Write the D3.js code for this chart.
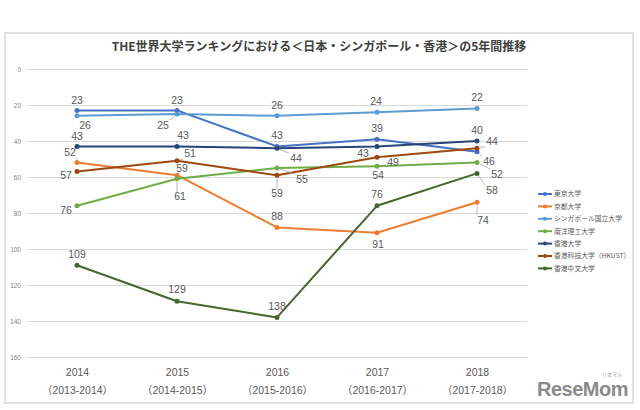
<!DOCTYPE html>
<html><head><meta charset="utf-8">
<script src="https://cdn.jsdelivr.net/npm/d3@7"></script>
<style>html,body{margin:0;padding:0;background:#fff;}svg{display:block;}</style>
</head><body>
<svg id="chart" width="640" height="410"></svg>
<script>
// ---- data ----
const years = ["2014","2015","2016","2017","2018"];
const yearRanges = ["（2013-2014）","（2014-2015）","（2015-2016）","（2016-2017）","（2017-2018）"];
const seriesNames = ["東京大学","京都大学","シンガポール国立大学","南洋理工大学","香港大学","香港科技大学（HKUST）","香港中文大学"];
const tokyo   = [23, 23, 43, 39, 46];
const kyoto   = [52, 59, 88, 91, 74];
const nus     = [26, 25, 26, 24, 22];
const ntu     = [76, 61, 55, 54, 52];
const hku     = [43, 43, 44, 43, 40];
const hkust   = [57, 51, 59, 49, 44];
const cuhk    = [109, 129, 138, 76, 58];
const yTicks  = [0, 20, 40, 60, 80, 100, 120, 140, 160];
const title = "THE世界大学ランキングにおける＜日本・シンガポール・香港＞の5年間推移";

// ---- styling ----
const seriesValues = [tokyo, kyoto, nus, ntu, hku, hkust, cuhk];
const colors = ["#4472C4","#ED7D31","#5B9BD5","#70AD47","#264478","#9E480E","#43682B"];
// label offsets (dx, dy, leader line) per series per point
const labelPos = [
  [[0,-10.5,0],[0,-10.5,0],[0,-11.5,0],[0,-11,0],[12,9.5,1]],
  [[-7,-10,1],[5,-6.5,0],[0,-10.7,0],[1,11.5,0],[6,18,1]],
  [[8,9.5,0],[-14,11,1],[0,-10.8,0],[-1,-10.5,0],[0,-11,0]],
  [[-11,4.2,0],[3,18,1],[25,11,1],[1,9.5,0],[20,11.4,1]],
  [[0,-10.5,0],[6,-11,1],[19,10,1],[-14,7,1],[0,-11,0]],
  [[-11,3.4,0],[13,-7,1],[0,18,1],[16,5.5,1],[15,-6.5,1]],
  [[0,-11,0],[0,-12,0],[0,-11.4,0],[0,-11.5,0],[15,17,1]]
];

const svg = d3.select("#chart");
svg.append("rect").attr("x",5).attr("y",33).attr("width",628).attr("height",370)
  .attr("fill","#fff").attr("stroke","#d9d9d9").attr("stroke-width",1.5);

const x = d3.scalePoint().domain(years).range([27,527]).padding(0.5);
const y = d3.scaleLinear().domain([0,160]).range([69,357]);

// title
svg.append("text").attr("x",319).attr("y",51).attr("text-anchor","middle")
  .attr("font-family","'Noto Sans CJK JP', sans-serif").attr("font-weight","bold")
  .attr("font-size",12).attr("fill","#404040").text(title);

// gridlines + y axis
const yAxis = d3.axisLeft(y).tickValues(yTicks).tickSize(-500).tickPadding(6);
const gy = svg.append("g").attr("transform","translate(27,0)").call(yAxis);
gy.select(".domain").remove();
gy.selectAll(".tick line").attr("stroke","#d9d9d9").attr("stroke-width",1);
gy.selectAll(".tick text").attr("font-family","'Liberation Sans', sans-serif")
  .attr("font-size",6.5).attr("fill","#7f7f7f");

// x axis labels
const xAxis = d3.axisBottom(x).tickSize(0).tickPadding(0);
const gx = svg.append("g").attr("transform","translate(0,357)").call(xAxis);
gx.select(".domain").remove();
gx.selectAll(".tick text").each(function(d,i){
  const t = d3.select(this).text(null).attr("y",0).attr("dy",null)
    .attr("font-family","'Liberation Sans', 'Noto Sans CJK JP', sans-serif")
    .attr("font-size",10.5).attr("fill","#595959");
  t.append("tspan").attr("x",0).attr("y",19).text(d);
  t.append("tspan").attr("x",0).attr("y",37).text(yearRanges[i]);
});

// lines
const line = d3.line().x((d,i)=>x(years[i])).y(d=>y(d));
seriesValues.forEach((vals,s)=>{
  const g = svg.append("g");
  g.append("path").datum(vals).attr("d",line).attr("fill","none")
    .attr("stroke",colors[s]).attr("stroke-width",2).attr("stroke-linejoin","round");
  g.selectAll("circle").data(vals).join("circle")
    .attr("cx",(d,i)=>x(years[i])).attr("cy",d=>y(d)).attr("r",2.5)
    .attr("fill",colors[s]);
});

// data labels
const lbl = svg.append("g");
seriesValues.forEach((vals,s)=>{
  vals.forEach((v,i)=>{
    const px = x(years[i]), py = y(v);
    const [dx,dy,lead] = labelPos[s][i];
    const lx = px+dx, ly = py+dy;
    const txt = String(v);
    const w = txt.length*5.9, h = 10;
    if(lead){
      // nearest point on label box
      const bx = Math.max(lx-w/2-1, Math.min(px, lx+w/2+1));
      const by = Math.max(ly-h/2, Math.min(py, ly+h/2));
      const ang = Math.atan2(by-py, bx-px);
      const sx = px+Math.cos(ang)*3, sy = py+Math.sin(ang)*3;
      lbl.append("line").attr("x1",sx).attr("y1",sy).attr("x2",bx).attr("y2",by)
        .attr("stroke","#a6a6a6").attr("stroke-width",0.8);
    }
    lbl.append("text").attr("x",lx).attr("y",ly).attr("dy","0.35em")
      .attr("text-anchor","middle").attr("font-family","'Liberation Sans', sans-serif")
      .attr("font-size",10.5).attr("fill","#595959").text(txt);
  });
});

// legend
const leg = svg.append("g");
seriesNames.forEach((n,s)=>{
  const ly = 194 + s*12.4;
  leg.append("line").attr("x1",538).attr("x2",552).attr("y1",ly).attr("y2",ly)
    .attr("stroke",colors[s]).attr("stroke-width",2);
  leg.append("circle").attr("cx",545).attr("cy",ly).attr("r",2).attr("fill",colors[s]);
  leg.append("text").attr("x",554).attr("y",ly).attr("dy","0.35em")
    .attr("font-family","'Noto Sans CJK JP', sans-serif").attr("font-size",6.8)
    .attr("fill","#595959").text(n);
});

// watermark
svg.append("text").attr("x",628).attr("y",396).attr("text-anchor","end")
  .attr("font-family","'Liberation Sans', sans-serif").attr("font-weight","bold")
  .attr("font-size",20).attr("fill","#8a8a8a").attr("letter-spacing",-0.5).text("ReseMom");
svg.append("text").attr("x",622).attr("y",376).attr("text-anchor","end")
  .attr("font-family","'Noto Sans CJK JP', sans-serif")
  .attr("font-size",5).attr("fill","#8a8a8a").text("リセマム");
</script>
</body></html>
